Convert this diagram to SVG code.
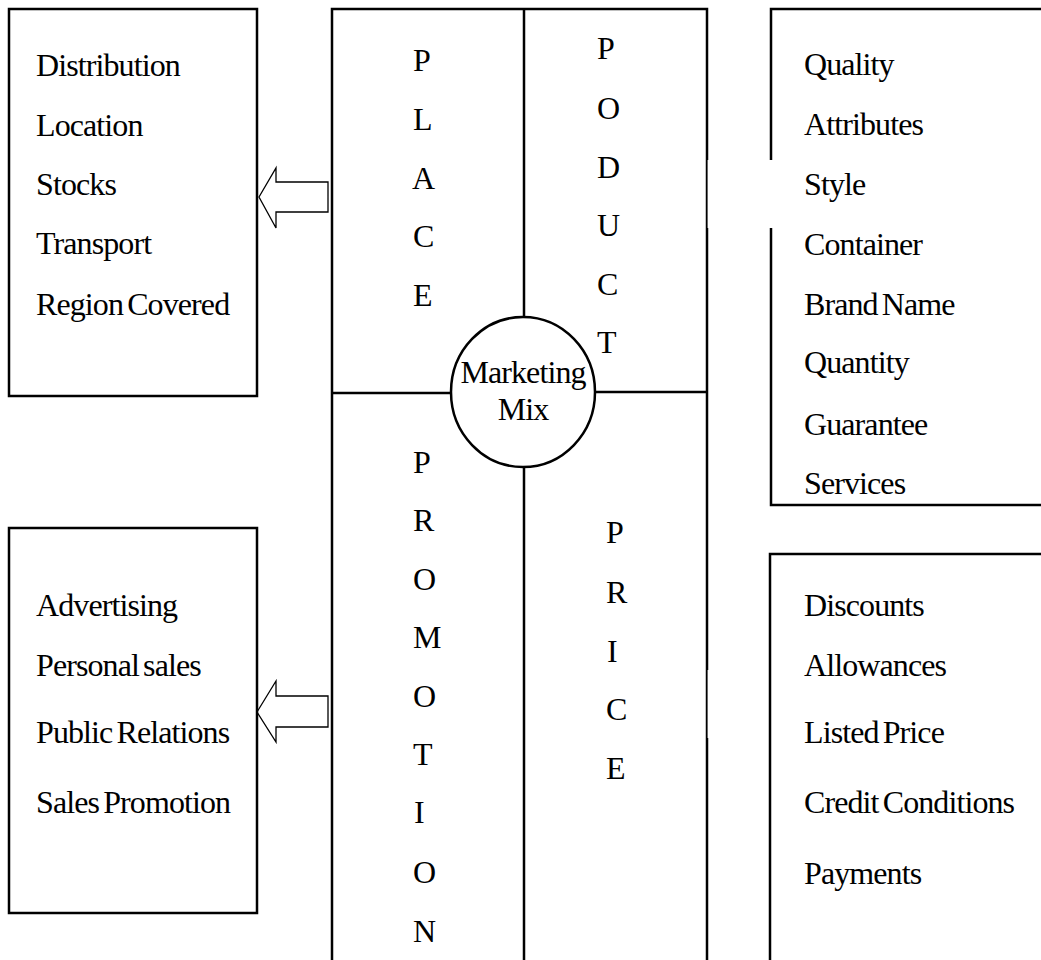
<svg xmlns="http://www.w3.org/2000/svg" width="1041" height="960" viewBox="0 0 1041 960">
  <style>
    .box { fill: none; stroke: #000; stroke-width: 2.5; }
    .line { fill: none; stroke: #000; stroke-width: 2.5; }
    .arrow { fill: #fff; stroke: #000; stroke-width: 1.3; stroke-linejoin: miter; }
    .mask { fill: #fff; stroke: none; }
    text { font-family: "Liberation Serif", "Times New Roman", serif; font-size: 32px; fill: #000; letter-spacing: -0.9px; word-spacing: -3px; }
    .letter { letter-spacing: 0; }
    .mid { text-anchor: middle; }
  </style>
  <rect width="1041" height="960" fill="#fff"/>

  <!-- central marketing-mix block -->
  <g id="mix-frame">
    <rect class="box" x="332" y="9" width="375" height="960"/>
  </g>

  <g id="connectors">
    <line class="line" x1="524" y1="9" x2="524" y2="317"/>
    <line class="line" x1="524" y1="467" x2="524" y2="965"/>
    <line class="line" x1="332" y1="393" x2="451" y2="393"/>
    <line class="line" x1="594" y1="392" x2="707" y2="392"/>
    <polygon class="arrow" points="259,197 276,168 276,182 328,182 328,212 276,212 276,228"/>
    <polygon class="arrow" points="257,712 276,681 276,696 328,696 328,727 276,727 276,742"/>
  </g>

  <g id="marketing-mix">
    <ellipse cx="523" cy="392" rx="72" ry="75" fill="#fff" stroke="#000" stroke-width="2.5"/>
    <text class="mid" x="523" y="383">Marketing</text>
    <text class="mid" x="523" y="420">Mix</text>
  </g>

  <g id="place">
    <text class="letter" x="413" y="71">P</text>
    <text class="letter" x="413" y="130">L</text>
    <text class="letter" x="412" y="189">A</text>
    <text class="letter" x="413" y="247">C</text>
    <text class="letter" x="413" y="306">E</text>
  </g>

  <g id="product">
    <text class="letter" x="597" y="59">P</text>
    <text class="letter" x="597" y="119">O</text>
    <text class="letter" x="597" y="178">D</text>
    <text class="letter" x="597" y="236">U</text>
    <text class="letter" x="597" y="295">C</text>
    <text class="letter" x="597" y="353">T</text>
  </g>

  <g id="promotion">
    <text class="letter" x="413" y="473">P</text>
    <text class="letter" x="413" y="531">R</text>
    <text class="letter" x="413" y="590">O</text>
    <text class="letter" x="413" y="648">M</text>
    <text class="letter" x="413" y="707">O</text>
    <text class="letter" x="413" y="765">T</text>
    <text class="letter" x="414" y="823">I</text>
    <text class="letter" x="413" y="883">O</text>
    <text class="letter" x="413" y="942">N</text>
  </g>

  <g id="price">
    <text class="letter" x="606" y="543">P</text>
    <text class="letter" x="606" y="603">R</text>
    <text class="letter" x="607" y="662">I</text>
    <text class="letter" x="606" y="720">C</text>
    <text class="letter" x="606" y="779">E</text>
  </g>

  <g id="place-items">
    <rect class="box" x="9" y="9" width="248" height="387"/>
    <text x="36" y="76">Distribution</text>
    <text x="36" y="136">Location</text>
    <text x="36" y="195">Stocks</text>
    <text x="36" y="254">Transport</text>
    <text x="36" y="315">Region Covered</text>
  </g>

  <g id="promotion-items">
    <rect class="box" x="9" y="528" width="248" height="385"/>
    <text x="36" y="616">Advertising</text>
    <text x="36" y="676">Personal sales</text>
    <text x="36" y="743">Public Relations</text>
    <text x="36" y="813">Sales Promotion</text>
  </g>

  <g id="product-items">
    <rect class="box" x="771" y="9" width="300" height="496"/>
    <text x="804" y="75">Quality</text>
    <text x="804" y="135">Attributes</text>
    <text x="804" y="195">Style</text>
    <text x="804" y="255">Container</text>
    <text x="804" y="315">Brand Name</text>
    <text x="804" y="373">Quantity</text>
    <text x="804" y="435">Guarantee</text>
    <text x="804" y="494">Services</text>
  </g>

  <g id="price-items">
    <rect class="box" x="770" y="554" width="300" height="420"/>
    <text x="804" y="616">Discounts</text>
    <text x="804" y="676">Allowances</text>
    <text x="804" y="743">Listed Price</text>
    <text x="804" y="813">Credit Conditions</text>
    <text x="804" y="884">Payments</text>
  </g>

  <!-- white patches that break the frame edges -->
  <rect class="mask" x="707.6" y="160" width="66" height="68"/>
  <rect class="mask" x="707.6" y="670" width="55" height="68"/>
</svg>
